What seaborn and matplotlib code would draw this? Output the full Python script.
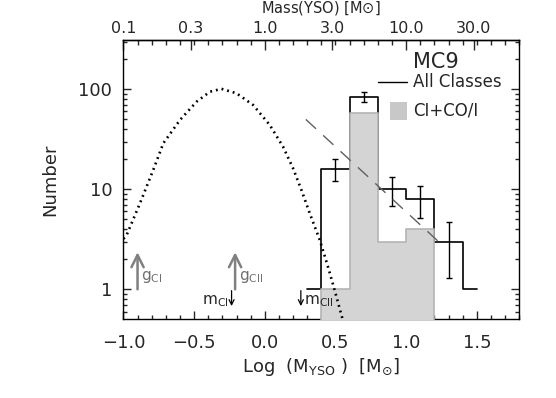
import numpy as np
import matplotlib
matplotlib.use("Agg")
import matplotlib.pyplot as plt
from matplotlib.ticker import MultipleLocator, LogLocator, NullFormatter
import seaborn as sns

# ---------------- data ----------------
# All classes histogram (IDL psym=10 style, bin centres)
all_x = [0.3, 0.5, 0.7, 0.9, 1.1, 1.3, 1.5]
all_n = [1, 16, 84, 10, 8, 3, 1]

# Error bars
err_x = [0.5, 0.7, 0.9, 1.1, 1.3]
err_mid = [16, 84, 10, 8, 3]
err_lo = [12.0, 75.0, 6.8, 5.2, 1.3]
err_hi = [20.0, 93.0, 13.2, 10.8, 4.7]

# Class I + Class 0/I filled histogram (bin edges & counts)
ci_edges = [0.4, 0.6, 0.8, 1.0, 1.2]
ci_n = [1, 58, 3, 4]

# IMF model curve (dotted)
curve_x = [-1.0, -0.977, -0.883, -0.789, -0.718, -0.600, -0.482, -0.388, -0.306,
           -0.200, -0.083, 0.035, 0.129, 0.200, 0.259, 0.318, 0.389, 0.447,
           0.494, 0.549]
curve_y = [3.2, 3.49, 7.24, 15.6, 28.8, 49.3, 75.2, 94.6, 101.0,
           91.2, 69.7, 44.0, 26.7, 16.2, 9.84, 5.75, 3.11, 1.68,
           0.98, 0.51]

# Dashed power-law slope
slope_x = [0.29, 1.24]
slope_y = [50.0, 2.9]

# Top-axis mass ticks
mass_ticks = [0.1, 0.3, 1.0, 3.0, 10.0, 30.0]
mass_labels = ["0.1", "0.3", "1.0", "3.0", "10.0", "30.0"]

# Bottom ticks
x_ticks = [-1.0, -0.5, 0.0, 0.5, 1.0, 1.5]
x_labels = ["\u22121.0", "\u22120.5", "0.0", "0.5", "1.0", "1.5"]

# Marker positions
g_ci_x, g_cii_x = -0.9, -0.21
m_ci_x, m_cii_x = -0.235, 0.255

# ---------------- style ----------------
sns.set_style("ticks")
plt.rcParams["font.family"] = ["DejaVu Sans"]
plt.rcParams["mathtext.fontset"] = "dejavusans"

W, H = 556, 398
fig = plt.figure(figsize=(W / 100, H / 100), dpi=100)
ax = fig.add_axes([123.4 / W, 1 - 319 / H, (519.3 - 123.4) / W, (319 - 40) / H])

ax.set_yscale("log")
ax.set_xlim(-1.0, 1.8)
ax.set_ylim(0.505, 311)

# all classes step histogram
ax.step(all_x, all_n, where="mid", color="black", lw=1.2, zorder=2)

# filled CI histogram (drawn over the outline, as in the original)
ax.fill_between(ci_edges, ci_n + [ci_n[-1]], 0.1, step="post",
                facecolor="#d4d4d4", edgecolor="#b4b4b4", lw=1.2, zorder=3)

# error bars
yerr = [np.array(err_mid) - np.array(err_lo), np.array(err_hi) - np.array(err_mid)]
ax.errorbar(err_x, err_mid, yerr=yerr, fmt="none", ecolor="black",
            elinewidth=1.0, capsize=2.3, capthick=1.0, zorder=4)

# IMF curve and slope via seaborn
sns.lineplot(x=curve_x, y=curve_y, ax=ax, color="black", lw=1.9,
             linestyle=(0, (0.7, 1.5)), sort=True, zorder=5)
sns.lineplot(x=slope_x, y=slope_y, ax=ax, color="#606060", lw=1.0,
             linestyle=(0, (10, 7)), zorder=4)

# arrows: g (up, gray)
for gx, lab in [(g_ci_x, r"g$_{\rm CI}$"), (g_cii_x, r"g$_{\rm CII}$")]:
    ax.annotate("", xy=(gx, 2.35), xytext=(gx, 1.0),
                arrowprops=dict(arrowstyle="->", color="#808080", lw=1.8,
                                mutation_scale=22, shrinkA=0, shrinkB=0))
    ax.text(gx + 0.025, 1.33, lab, color="#707070", fontsize=11, ha="left", va="center")

# arrows: m (down, black)
for mx in [m_ci_x, m_cii_x]:
    ax.annotate("", xy=(mx, 0.68), xytext=(mx, 0.97),
                arrowprops=dict(arrowstyle="->", color="black", lw=0.9,
                                mutation_scale=9, shrinkA=0, shrinkB=0))
ax.text(m_ci_x - 0.02, 0.755, r"m$_{\rm CI}$", fontsize=11, ha="right", va="center")
ax.text(m_cii_x + 0.025, 0.755, r"m$_{\rm CII}$", fontsize=11, ha="left", va="center")

# legend (manual, as in the original)
ax.text(0.731, 0.921, "MC9", transform=ax.transAxes, fontsize=15, ha="left", va="center")
ax.plot([0.643, 0.717], [0.849, 0.849], transform=ax.transAxes,
        color="black", lw=1.0)
ax.text(0.731, 0.849, "All Classes", transform=ax.transAxes, fontsize=12,
        ha="left", va="center")
ax.add_patch(plt.Rectangle((0.673, 0.713), 0.043, 0.065, transform=ax.transAxes,
                           facecolor="#c8c8c8", edgecolor="none"))
ax.text(0.731, 0.747, "CI+CO/I", transform=ax.transAxes, fontsize=12,
        ha="left", va="center")

# ---------------- axes ----------------
for s in ax.spines.values():
    s.set_color("black")
    s.set_linewidth(1.0)

ax.set_xticks(x_ticks)
ax.set_xticklabels(x_labels, fontsize=13)
ax.xaxis.set_minor_locator(MultipleLocator(0.1))
ax.yaxis.set_minor_locator(LogLocator(base=10, subs=np.arange(2, 10), numticks=20))
ax.yaxis.set_minor_formatter(NullFormatter())
ax.set_yticks([1, 10, 100])
ax.set_yticklabels(["1", "10", "100"], fontsize=13)
ax.set_ylim(0.505, 311)

ax.tick_params(axis="both", which="major", direction="in", length=6, width=1.0,
               top=False, right=True)
ax.tick_params(axis="both", which="minor", direction="in", length=3, width=1.0,
               top=False, right=True)
ax.tick_params(axis="x", which="major", pad=11)
ax.tick_params(axis="y", which="major", pad=8)

ax.set_xlabel(r"Log  (M$_{\rm YSO}$ )  [M$_{\odot}$]", fontsize=13, labelpad=3)
ax.set_ylabel("Number", fontsize=13, labelpad=14)

sec = ax.secondary_xaxis("top")
sec.set_xticks(np.log10(mass_ticks))
sec.set_xticklabels(mass_labels, fontsize=11.5)
sec.xaxis.set_minor_locator(MultipleLocator(0.1))
sec.tick_params(which="major", direction="in", length=7, width=1.0, pad=3)
sec.tick_params(which="minor", direction="in", length=3.5, width=1.0)
sec.spines["top"].set_linewidth(1.0)

# top axis title placed just above the tick labels
fig.text(0.5 * (123.4 + 519.3) / W + 0.0, 1 - 8 / H, r"Mass(YSO) [M$\odot$]",
         fontsize=10.5, ha="center", va="center")

fig.savefig("out.png", dpi=100)
